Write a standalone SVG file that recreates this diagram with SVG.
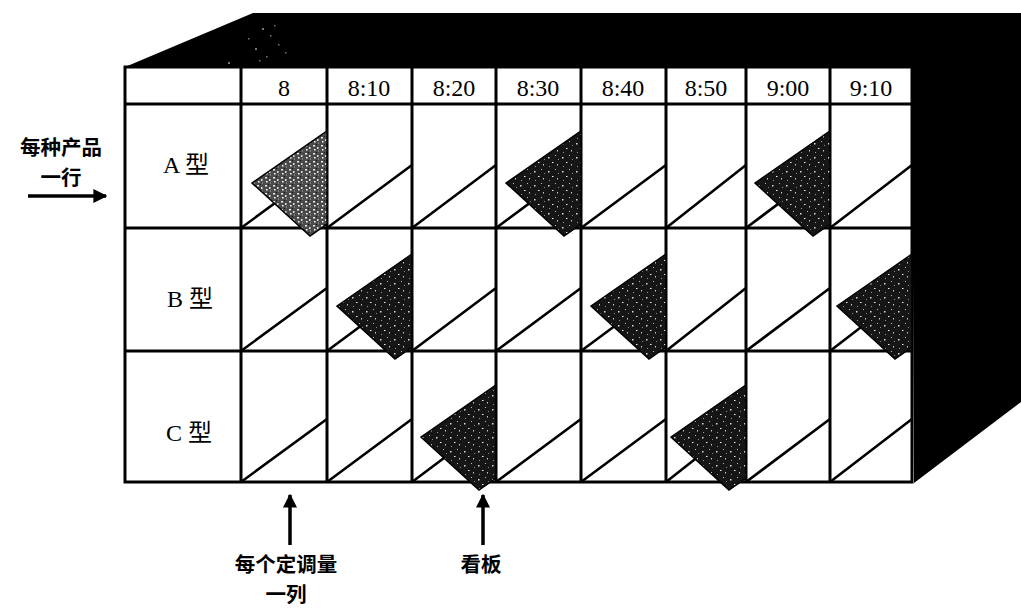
<svg xmlns="http://www.w3.org/2000/svg" width="1021" height="610" viewBox="0 0 1021 610">
<style>
.grid{stroke:#000;stroke-width:3;fill:none}
.diag{stroke:#000;stroke-width:2.6;fill:none}
.num{font-family:"Liberation Serif",serif;font-size:24px;fill:#000;text-anchor:middle}
.row{font-family:"Liberation Serif","Noto Sans CJK SC",serif;font-size:24px;fill:#000}
.cjk{font-family:"Noto Sans CJK SC",sans-serif;font-size:20.5px;font-weight:bold;fill:#000;text-anchor:middle}
.card{fill:url(#speck);stroke:#000;stroke-width:1.5}
.cardL{fill:url(#speckL);stroke:#000;stroke-width:1.5}
.arr{stroke:#000;stroke-width:3.5;fill:none}
</style>
<defs>
<pattern id="speck" width="14" height="14" patternUnits="userSpaceOnUse">
<rect width="14" height="14" fill="#161616"/>
<rect x="2" y="3" width="1.5" height="1.5" fill="#ddd"/>
<rect x="9" y="1" width="1" height="1" fill="#bbb"/>
<rect x="6" y="8" width="1.5" height="1" fill="#eee"/>
<rect x="11" y="10" width="1" height="1.5" fill="#ccc"/>
<rect x="3" y="12" width="1" height="1" fill="#999"/>
<rect x="12" y="5" width="1" height="1" fill="#888"/>
</pattern>
<pattern id="speckL" width="8" height="8" patternUnits="userSpaceOnUse">
<rect width="8" height="8" fill="#4a4a4a"/>
<rect x="1" y="1" width="2" height="1.5" fill="#eee"/>
<rect x="5" y="3" width="1.5" height="2" fill="#ddd"/>
<rect x="2" y="5" width="1.5" height="1.5" fill="#fff"/>
<rect x="6" y="6.5" width="1" height="1" fill="#bbb"/>
<rect x="4" y="0" width="1" height="1" fill="#111"/>
</pattern>
<marker id="ah" viewBox="0 0 10 10" refX="9" refY="5" markerWidth="4" markerHeight="4" markerUnits="strokeWidth" orient="auto">
<path d="M0,0 L10,5 L0,10 Z" fill="#000"/>
</marker>
</defs>
<rect width="1021" height="610" fill="#fff"/>

<g id="backdrop">
<polygon points="125,67 253,13 1021,13 1021,402 914,483 912,67" fill="#000"/>
<g fill="#777">
<rect x="262" y="28" width="2" height="2"/><rect x="270" y="35" width="1.5" height="1.5"/>
<rect x="255" y="48" width="2" height="2"/><rect x="278" y="44" width="1.5" height="1.5"/>
<rect x="248" y="38" width="1.5" height="1.5"/><rect x="285" y="52" width="1.5" height="1.5"/>
<rect x="228" y="62" width="2" height="2"/><rect x="266" y="56" width="1.5" height="1.5"/>
<rect x="259" y="60" width="1.5" height="1.5"/><rect x="274" y="25" width="1.5" height="1.5"/>
</g>
</g>

<g id="table">
<rect x="125" y="67" width="787" height="415" fill="#fff"/>
<g id="diagonals" class="diag">
<path d="M241,228 L327,165 M327,228 L412,165 M412,228 L496,165 M496,228 L581,165 M581,228 L666,165 M666,228 L746,165 M746,228 L830,165 M830,228 L912,165"/>
<path d="M241,351 L327,288 M327,351 L412,288 M412,351 L496,288 M496,351 L581,288 M581,351 L666,288 M666,351 L746,288 M746,351 L830,288 M830,351 L912,288"/>
<path d="M241,482 L327,419 M327,482 L412,419 M412,482 L496,419 M496,482 L581,419 M581,482 L666,419 M666,482 L746,419 M746,482 L830,419 M830,482 L912,419"/>
</g>
<g class="grid">
<rect x="125" y="67" width="787" height="415"/>
<path d="M125,104 H912 M125,228 H912 M125,351 H912"/>
<path d="M241,67 V482 M327,67 V482 M412,67 V482 M496,67 V482 M581,67 V482 M666,67 V482 M746,67 V482 M830,67 V482"/>
</g>
</g>

<g id="header">
<text class="num" x="284" y="96">8</text>
<text class="num" x="369" y="96">8:10</text>
<text class="num" x="454" y="96">8:20</text>
<text class="num" x="538" y="96">8:30</text>
<text class="num" x="623" y="96">8:40</text>
<text class="num" x="706" y="96">8:50</text>
<text class="num" x="788" y="96">9:00</text>
<text class="num" x="871" y="96">9:10</text>
</g>

<g id="row-labels">
<text id="row-a" class="row" x="163" y="173">A 型</text>
<text id="row-b" class="row" x="167" y="307">B 型</text>
<text id="row-c" class="row" x="166" y="441">C 型</text>
</g>

<g id="kanbans">
<polygon id="kanban-a-800" class="cardL" points="252,183 327,131 327,224 310,236"/>
<polygon id="kanban-a-830" class="card" points="506,183 581,131 581,224 564,236"/>
<polygon id="kanban-a-900" class="card" points="755,183 830,131 830,224 813,236"/>
<polygon id="kanban-b-810" class="card" points="337,306 412,254 412,347 395,359"/>
<polygon id="kanban-b-840" class="card" points="591,306 666,254 666,347 649,359"/>
<polygon id="kanban-b-910" class="card" points="837,306 912,254 912,347 895,359"/>
<polygon id="kanban-c-820" class="card" points="421,437 496,385 496,478 479,490"/>
<polygon id="kanban-c-850" class="card" points="671,437 746,385 746,478 729,490"/>
</g>

<g id="connectors">
<line class="arr" x1="28" y1="196" x2="106" y2="196" marker-end="url(#ah)"/>
<line class="arr" x1="290" y1="545" x2="290" y2="495" marker-end="url(#ah)"/>
<line class="arr" x1="483" y1="545" x2="483" y2="495" marker-end="url(#ah)"/>
</g>

<g id="label-row">
<text class="cjk" x="61" y="155">每种产品</text>
<text class="cjk" x="61" y="185">一行</text>
</g>
<g id="label-column">
<text class="cjk" x="286" y="572">每个定调量</text>
<text class="cjk" x="286" y="602">一列</text>
</g>
<g id="label-kanban">
<text class="cjk" x="481" y="572">看板</text>
</g>
</svg>
